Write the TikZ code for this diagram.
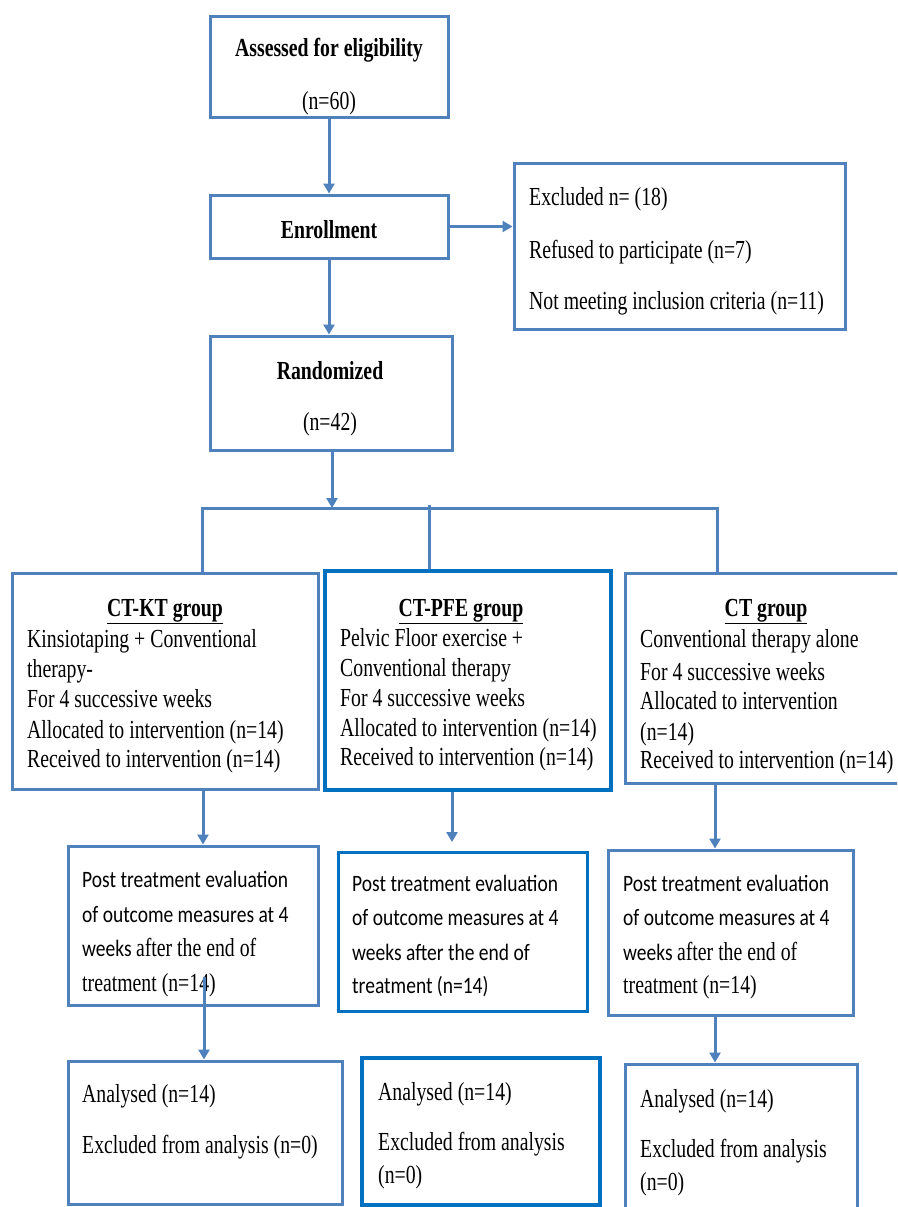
\documentclass[tikz,border=0pt]{standalone}
\usepackage{fontspec}
\newfontfamily\tnr[FakeStretch=0.76]{Liberation Serif}
\newfontfamily\calib[FakeStretch=0.83]{Carlito}
\usetikzlibrary{arrows.meta,calc}
\definecolor{lblue}{RGB}{79,129,189}
\definecolor{dblue}{RGB}{0,112,192}
\newcommand\fT{\tnr\fontsize{26}{30}\selectfont}
\newcommand\fC{\calib\fontsize{23.5}{30}\selectfont}
\tikzset{
  lbox/.style={draw=lblue,line width=3pt,rectangle,inner sep=0pt,fill=white},
  dbox/.style={draw=dblue,line width=4pt,rectangle,inner sep=0pt,fill=white},
  dboxthin/.style={draw=dblue,line width=3pt,rectangle,inner sep=0pt,fill=white},
  arr/.style={draw=lblue,line width=3pt,-{Triangle[length=10pt,width=11pt]}},
  ln/.style={draw=lblue,line width=3pt},
  tx/.style={anchor=base west,inner sep=0pt,font=\fT},
  txc/.style={anchor=base,inner sep=0pt,font=\fT},
  cx/.style={anchor=base west,inner sep=0pt,font=\fC},
}
\begin{document}
\begin{tikzpicture}[x=1pt,y=-1pt]
\clip (0,0) rectangle (897,1207);
\fill[white] (0,0) rectangle (897,1207);

% boxes
\node[lbox,minimum width=238,minimum height=100] (assess) at (329,67) {};
\node[lbox,minimum width=238,minimum height=63] (enroll) at (329,226.5) {};
\node[lbox,minimum width=331,minimum height=166] (excl) at (679.5,246) {};
\node[lbox,minimum width=242,minimum height=114] (rand) at (331,393) {};
\node[lbox,minimum width=306,minimum height=216] (ktg) at (165,681) {};
\node[dbox,minimum width=286,minimum height=219] (pfe) at (468,680.5) {};
\node[lbox,minimum width=295,minimum height=210] (ctg) at (772.5,678) {};
\node[lbox,minimum width=250,minimum height=159] (postL) at (193,925.5) {};
\node[dboxthin,minimum width=249,minimum height=159] (postM) at (462.5,931.5) {};
\node[lbox,minimum width=245,minimum height=165] (postR) at (730.5,932.5) {};
\node[lbox,minimum width=274,minimum height=143] (anL) at (205,1132.5) {};
\node[dbox,minimum width=238,minimum height=147] (anM) at (481,1131.5) {};
\node[lbox,minimum width=232,minimum height=166] (anR) at (741,1147) {};

% texts
\node[txc] (t1) at (329,57) {\bfseries Assessed for eligibility};
\node[txc] (t2) at (329,109) {(n=60)};
\node[txc] (t3) at (329,238) {\bfseries Enrollment};
\node[tx] (t4) at (529,205) {Excluded n= (18)};
\node[tx] (t5) at (529,258) {Refused to participate (n=7)};
\node[tx] (t6) at (529,309) {Not meeting inclusion criteria (n=11)};
\node[txc] (t7) at (330,379) {\bfseries Randomized};
\node[txc] (t8) at (330,430) {(n=42)};

\node[txc] (g1) at (165,616) {\bfseries\underline{CT-KT group}};
\node[tx] (k1) at (27,647) {Kinsiotaping + Conventional};
\node[tx] (k2) at (27,677) {therapy-};
\node[tx] (k3) at (27,707) {For 4 successive weeks};
\node[tx] (k4) at (27,738) {Allocated to intervention (n=14)};
\node[tx] (k5) at (27,767) {Received to intervention (n=14)};

\node[txc] (g2) at (461,616) {\bfseries\underline{CT-PFE group}};
\node[tx] (p1) at (340,646) {Pelvic Floor exercise +};
\node[tx] (p2) at (340,676) {Conventional therapy};
\node[tx] (p3) at (340,706) {For 4 successive weeks};
\node[tx] (p4) at (340,736) {Allocated to intervention (n=14)};
\node[tx] (p5) at (340,765) {Received to intervention (n=14)};

\node[txc] (g3) at (766,616) {\bfseries\underline{CT group}};
\node[tx] (c1) at (640,647) {Conventional therapy alone};
\node[tx] (c2) at (640,680) {For 4 successive weeks};
\node[tx] (c3) at (640,709) {Allocated to intervention};
\node[tx] (c4) at (640,740) {(n=14)};
\node[tx] (c5) at (640,768) {Received to intervention (n=14)};

\node[cx] (l1) at (82,887) {Post treatment evaluation};
\node[cx] (l2) at (82,922) {of outcome measures at 4};
\node[cx] (l3) at (82,956) {weeks {\fT after the end of}};
\node[tx] (l4) at (82,991) {treatment (n=14)};

\node[cx] (m1) at (352,891) {Post treatment evaluation};
\node[cx] (m2) at (352,925) {of outcome measures at 4};
\node[cx] (m3) at (352,960) {weeks after the end of};
\node[cx] (m4) at (352,993) {treatment (n=14)};

\node[cx] (r1) at (623,891) {Post treatment evaluation};
\node[cx] (r2) at (623,925) {of outcome measures at 4};
\node[cx] (r3) at (623,960) {weeks {\fT after the end of}};
\node[tx] (r4) at (623,993) {treatment (n=14)};

\node[tx] (a1) at (82,1102) {Analysed (n=14)};
\node[tx] (a2) at (82,1153) {Excluded from analysis (n=0)};
\node[tx] (b1) at (378,1100) {Analysed (n=14)};
\node[tx] (b2) at (378,1150) {Excluded from analysis};
\node[tx] (b3) at (378,1183) {(n=0)};
\node[tx] (e1) at (640,1107) {Analysed (n=14)};
\node[tx] (e2) at (640,1157) {Excluded from analysis};
\node[tx] (e3) at (640,1190) {(n=0)};

% connectors
\draw[arr] (assess.south) -- (enroll.north);
\draw[arr] (enroll.east) -- (excl.west |- enroll.east);
\draw[arr] (enroll.south) -- (enroll.south |- rand.north);
\coordinate (split) at (332,508);
\coordinate (hL) at (202,508);
\coordinate (hM) at (429,505);
\coordinate (hR) at (717,508);
\draw[arr] (split |- rand.south) -- (split);
\draw[ln,line join=miter] (hL |- ktg.north) -- (hL) -- (hR) -- (hR |- ctg.north);
\draw[ln] (hM) -- (hM |- pfe.north);

\coordinate (cL) at (203,0);
\coordinate (cM) at (452,842);
\coordinate (cR) at (715,0);
\coordinate (cL2) at (204,977);
\draw[arr] (cL |- ktg.south) -- (cL |- postL.north);
\draw[arr] (cM |- pfe.south) -- (cM);
\draw[arr] (cR |- ctg.south) -- (cR |- postR.north);
\draw[arr] (cL2) -- (cL2 |- anL.north);
\draw[arr] (cR |- postR.south) -- (cR |- anR.north);
\end{tikzpicture}
\end{document}
